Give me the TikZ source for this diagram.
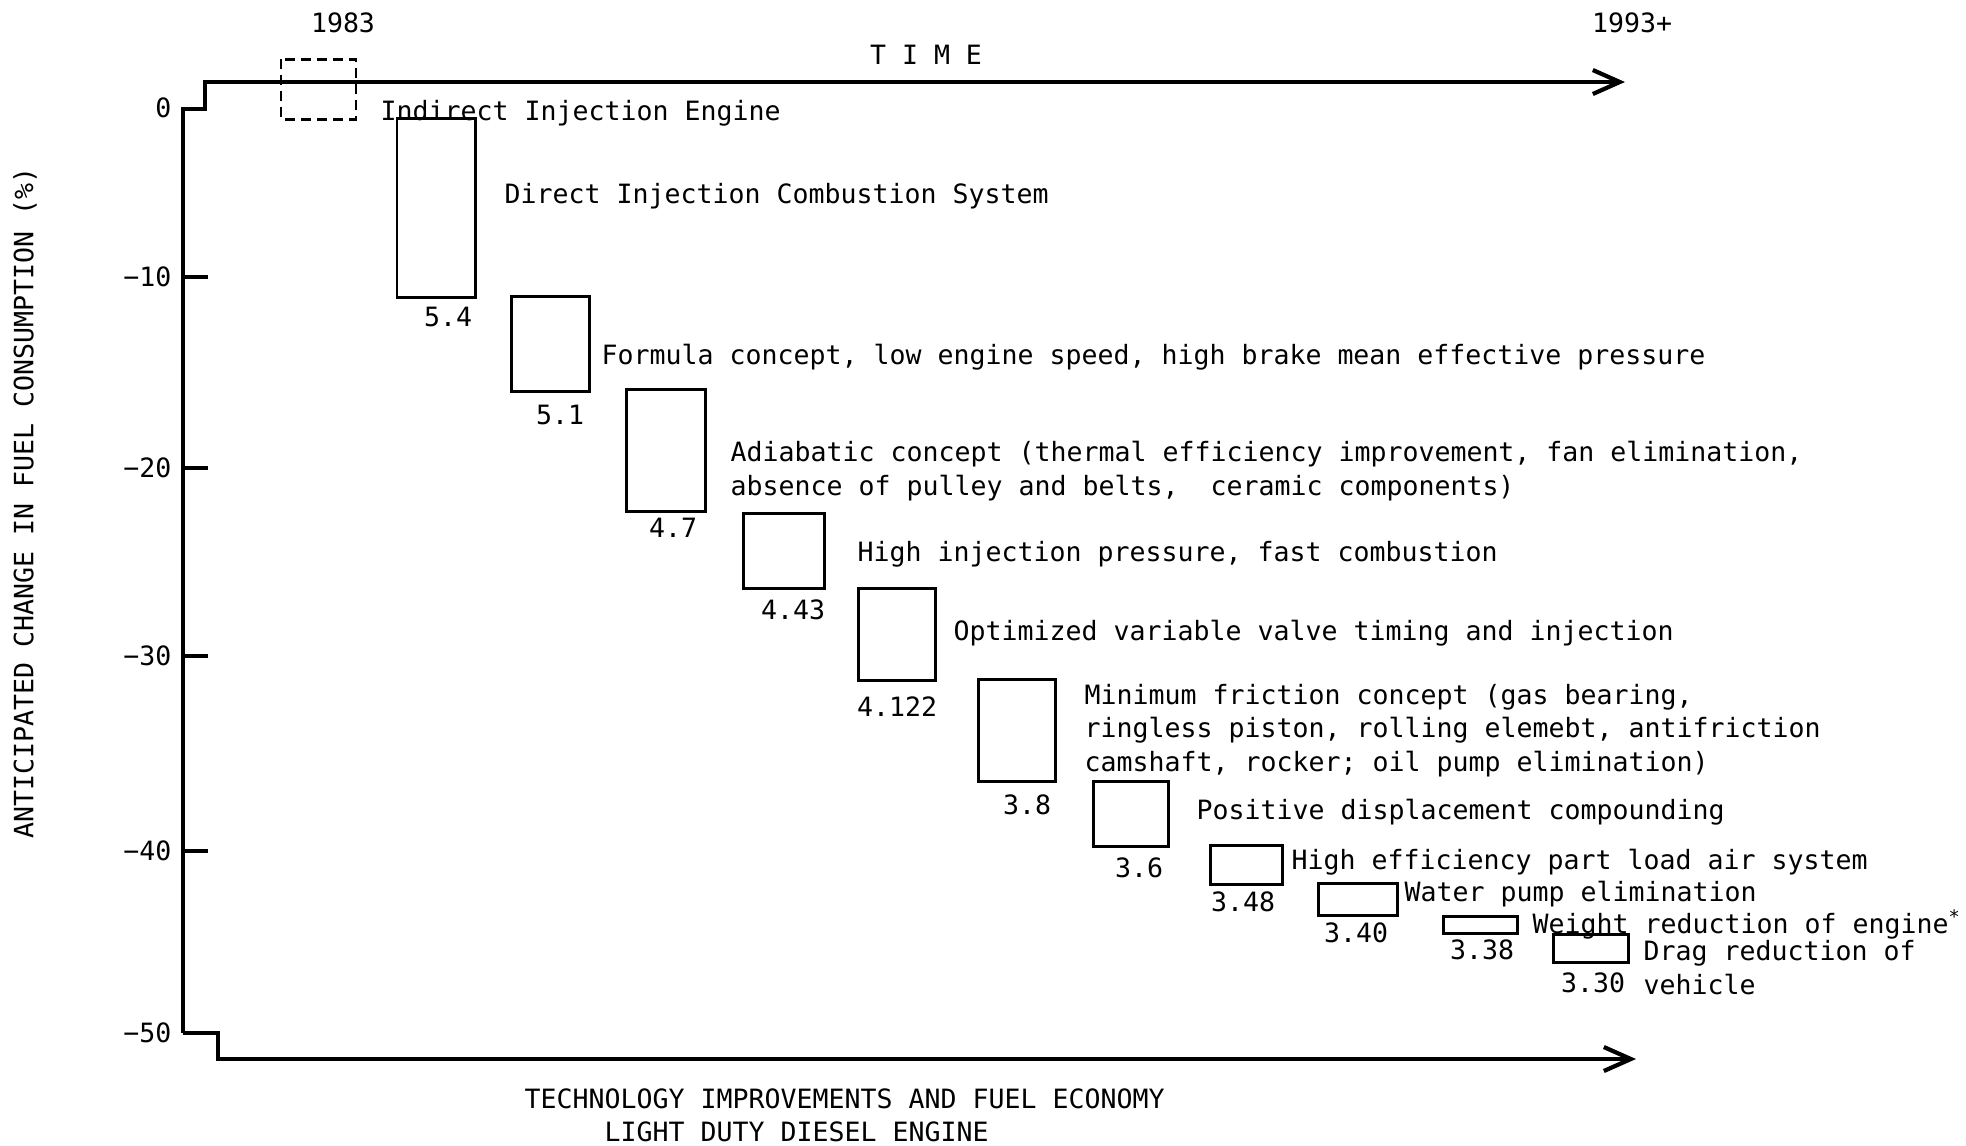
\documentclass[tikz,border=0pt]{standalone}
\usepackage{fontspec}
\newfontfamily\plotfont{DejaVu Sans Mono}
\usepackage{tikz}
\usetikzlibrary{arrows.meta, positioning}

\begin{document}
\begin{tikzpicture}[
        every node/.style={font=\plotfont\fontsize{7.56pt}{9.4pt}\selectfont, inner sep=0pt},
        axisline/.style={line width=1.15pt, line join=miter},
        axistip/.style={-{Straight Barb[length=0.27cm, width=0.24cm, line width=1.2pt]}},
        stepbox/.style={draw, line width=0.85pt},
        startbox/.style={draw, line width=0.85pt, dash pattern=on 0.1cm off 0.06cm},
        techtext/.style={anchor=base west, align=left},
        ticklabel/.style={anchor=east}
    ]
        \useasboundingbox (0,0) rectangle (19.66,-11.45);

        % Axes with the little steps at 0 and -50
        \coordinate (ytop) at (1.83,-1.09);
        \coordinate (ybot) at (1.83,-10.33);
        \coordinate (tend) at (16.25,-0.82);
        \coordinate (bend) at (16.36,-10.59);
        \draw[axisline, axistip] (ybot) -- (ytop) -- ++(0.22,0) |- (tend);
        \draw[axisline, axistip] (ybot) -- ++(0.35,0) |- (bend);

        % Ticks and their values
        \foreach \v/\y [count=\i] in {0/1.08, −10/2.77, −20/4.68, −30/6.56, −40/8.51, −50/10.33} {
            \node[ticklabel] (tick\i) at (1.72,-\y) {\v};
        }
        \foreach \y in {2.77, 4.68, 6.56, 8.51} {
            \draw[axisline] (1.83,-\y) -- (2.08,-\y);
        }
        \node[rotate=90] (ylabel) at (0.25,-5.03) {ANTICIPATED CHANGE IN FUEL CONSUMPTION (\%)};

        % Time axis labels
        \node (start) at (3.43,-0.23) {1983};
        \node (finish) at (16.32,-0.23) {1993+};
        \node (time) at (9.26,-0.55) {T I M E};

        % Starting point
        \draw[startbox] (2.81,-0.59) rectangle (3.56,-1.19);
        \node[techtext] (desc0) at (3.80,-1.20) {Indirect Injection Engine};

        % Technology steps: box corners, saving and where it is printed
        \foreach \xa/\ya/\xb/\yb/\val/\vx/\vy [count=\i] in {
            3.97/1.18/4.75/2.97/5.4/4.48/3.17,
            5.11/2.96/5.89/3.91/5.1/5.60/4.15,
            6.26/3.89/7.05/5.11/4.7/6.73/5.28,
            7.43/5.13/8.24/5.88/4.43/7.93/6.10,
            8.58/5.88/9.35/6.80/4.122/8.97/7.07,
            9.78/6.79/10.55/7.81/3.8/10.27/8.05,
            10.93/7.81/11.68/8.46/3.6/11.39/8.68,
            12.10/8.45/12.82/8.84/3.48/12.43/9.02,
            13.18/8.83/13.97/9.15/3.40/13.56/9.33,
            14.43/9.16/15.17/9.33/3.38/14.82/9.50,
            15.53/9.34/16.28/9.62/3.30/15.93/9.83} {
            \draw[stepbox] (\xa,-\ya) rectangle (\xb,-\yb);
            \node (val\i) at (\vx,-\vy) {\val};
        }

        % What each step is (multi-line texts sit on their last line)
        \node[techtext] (desc1) at (5.04,-2.03) {Direct Injection Combustion System};
        \node[techtext] (desc2) at (6.01,-3.64) {Formula concept, low engine speed, high brake mean effective pressure};
        \node[techtext] (desc3) at (7.30,-4.95) {Adiabatic concept (thermal efficiency improvement, fan elimination,\\absence of pulley and belts,\ \ ceramic components)};
        \node[techtext] (desc4) at (8.57,-5.61) {High injection pressure, fast combustion};
        \node[techtext] (desc5) at (9.53,-6.40) {Optimized variable valve timing and injection};
        \node[techtext] (desc6) at (10.84,-7.71) {Minimum friction concept (gas bearing,\\ringless piston, rolling elemebt, antifriction\\camshaft, rocker; oil pump elimination)};
        \node[techtext] (desc7) at (11.96,-8.19) {Positive displacement compounding};
        \node[techtext] (desc8) at (12.91,-8.69) {High efficiency part load air system};
        \node[techtext] (desc9) at (14.04,-9.01) {Water pump elimination};
        \node[techtext] (desc10) at (15.32,-9.33) {Weight reduction of engine\textsuperscript{*}};
        \node[techtext] (desc11) at (16.43,-9.94) {Drag reduction of\\vehicle};

        % Caption
        \node[techtext] (title1) at (5.24,-11.08) {TECHNOLOGY IMPROVEMENTS AND FUEL ECONOMY};
        \node[techtext] (title2) at (6.04,-11.41) {LIGHT DUTY DIESEL ENGINE};
    \end{tikzpicture}
\end{document}
